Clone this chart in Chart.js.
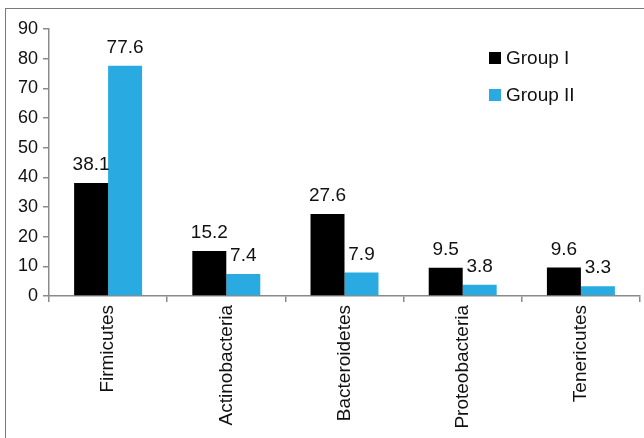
<!DOCTYPE html>
<html>
<head>
<meta charset="utf-8">
<script src="https://cdn.jsdelivr.net/npm/chart.js@4.4.1/dist/chart.umd.min.js"></script>
<style>
  html, body { margin: 0; padding: 0; width: 644px; height: 438px; overflow: hidden; background: #fff; }
  #frame { position: absolute; left: 5px; top: 8px; width: 700px; height: 500px; border: 1.5px solid #7a7a7a; box-sizing: border-box; }
  #wrap { position: absolute; left: 0; top: 0; width: 660px; height: 438px; }
</style>
</head>
<body>
<div id="frame"></div>
<div id="wrap"><canvas id="c" width="660" height="438"></canvas></div>
<script>
const categories = ["Firmicutes", "Actinobacteria", "Bacteroidetes", "Proteobacteria", "Tenericutes"];
const seriesNames = ["Group I", "Group II"];
const groupI = [38.1, 15.2, 27.6, 9.5, 9.6];
const groupII = [77.6, 7.4, 7.9, 3.8, 3.3];
const yTicks = [0, 10, 20, 30, 40, 50, 60, 70, 80, 90];

const FONT = "'Liberation Sans', Arial, sans-serif";
const AXIS = '#8a8a8a';

const dataLabels = {
  id: 'dataLabels',
  afterDatasetsDraw(chart) {
    const ctx = chart.ctx;
    ctx.save();
    ctx.font = '19px ' + FONT;
    ctx.fillStyle = '#111';
    ctx.textAlign = 'center';
    ctx.textBaseline = 'alphabetic';
    chart.data.datasets.forEach((ds, i) => {
      const meta = chart.getDatasetMeta(i);
      meta.data.forEach((bar, j) => {
        ctx.fillText(ds.data[j].toFixed(1), bar.x, bar.y - 13);
      });
    });
    ctx.restore();
  }
};

const customLegend = {
  id: 'customLegend',
  afterDraw(chart) {
    const ctx = chart.ctx;
    ctx.save();
    ctx.font = '19px ' + FONT;
    ctx.textBaseline = 'middle';
    ctx.textAlign = 'left';
    const ys = [58, 95];
    chart.data.datasets.forEach((ds, i) => {
      ctx.fillStyle = ds.backgroundColor;
      ctx.fillRect(489, ys[i] - 6, 12, 12);
      ctx.fillStyle = '#111';
      ctx.fillText(ds.label, 506, ys[i] + 1);
    });
    ctx.restore();
  }
};

new Chart(document.getElementById('c'), {
  type: 'bar',
  data: {
    labels: categories,
    datasets: [
      { label: seriesNames[0], data: groupI, backgroundColor: '#000000', categoryPercentage: 0.575, barPercentage: 1.0 },
      { label: seriesNames[1], data: groupII, backgroundColor: '#29abe2', categoryPercentage: 0.575, barPercentage: 1.0 }
    ]
  },
  options: {
    responsive: false,
    animation: false,
    events: [],
    layout: { padding: { left: 0, top: 29, right: 20, bottom: 0 } },
    plugins: { legend: { display: false }, tooltip: { enabled: false } },
    scales: {
      x: {
        offset: true,
        grid: { drawOnChartArea: false, drawTicks: true, tickLength: 6, color: AXIS, lineWidth: 1.5, offset: true },
        border: { color: AXIS, width: 1.5 },
        ticks: { minRotation: 90, maxRotation: 90, padding: 3, color: '#111', font: { family: FONT, size: 19 } },
        afterFit(scale) { scale.height = 142; }
      },
      y: {
        min: 0, max: 90,
        afterBuildTicks(scale) { scale.ticks = yTicks.map(v => ({ value: v })); },
        grid: { drawOnChartArea: false, drawTicks: true, tickLength: 6, color: AXIS, lineWidth: 1.5 },
        border: { color: AXIS, width: 1.5 },
        ticks: { padding: 5, color: '#111', font: { family: FONT, size: 18 } },
        afterFit(scale) { scale.width = 49; }
      }
    }
  },
  plugins: [dataLabels, customLegend]
});
</script>
</body>
</html>
